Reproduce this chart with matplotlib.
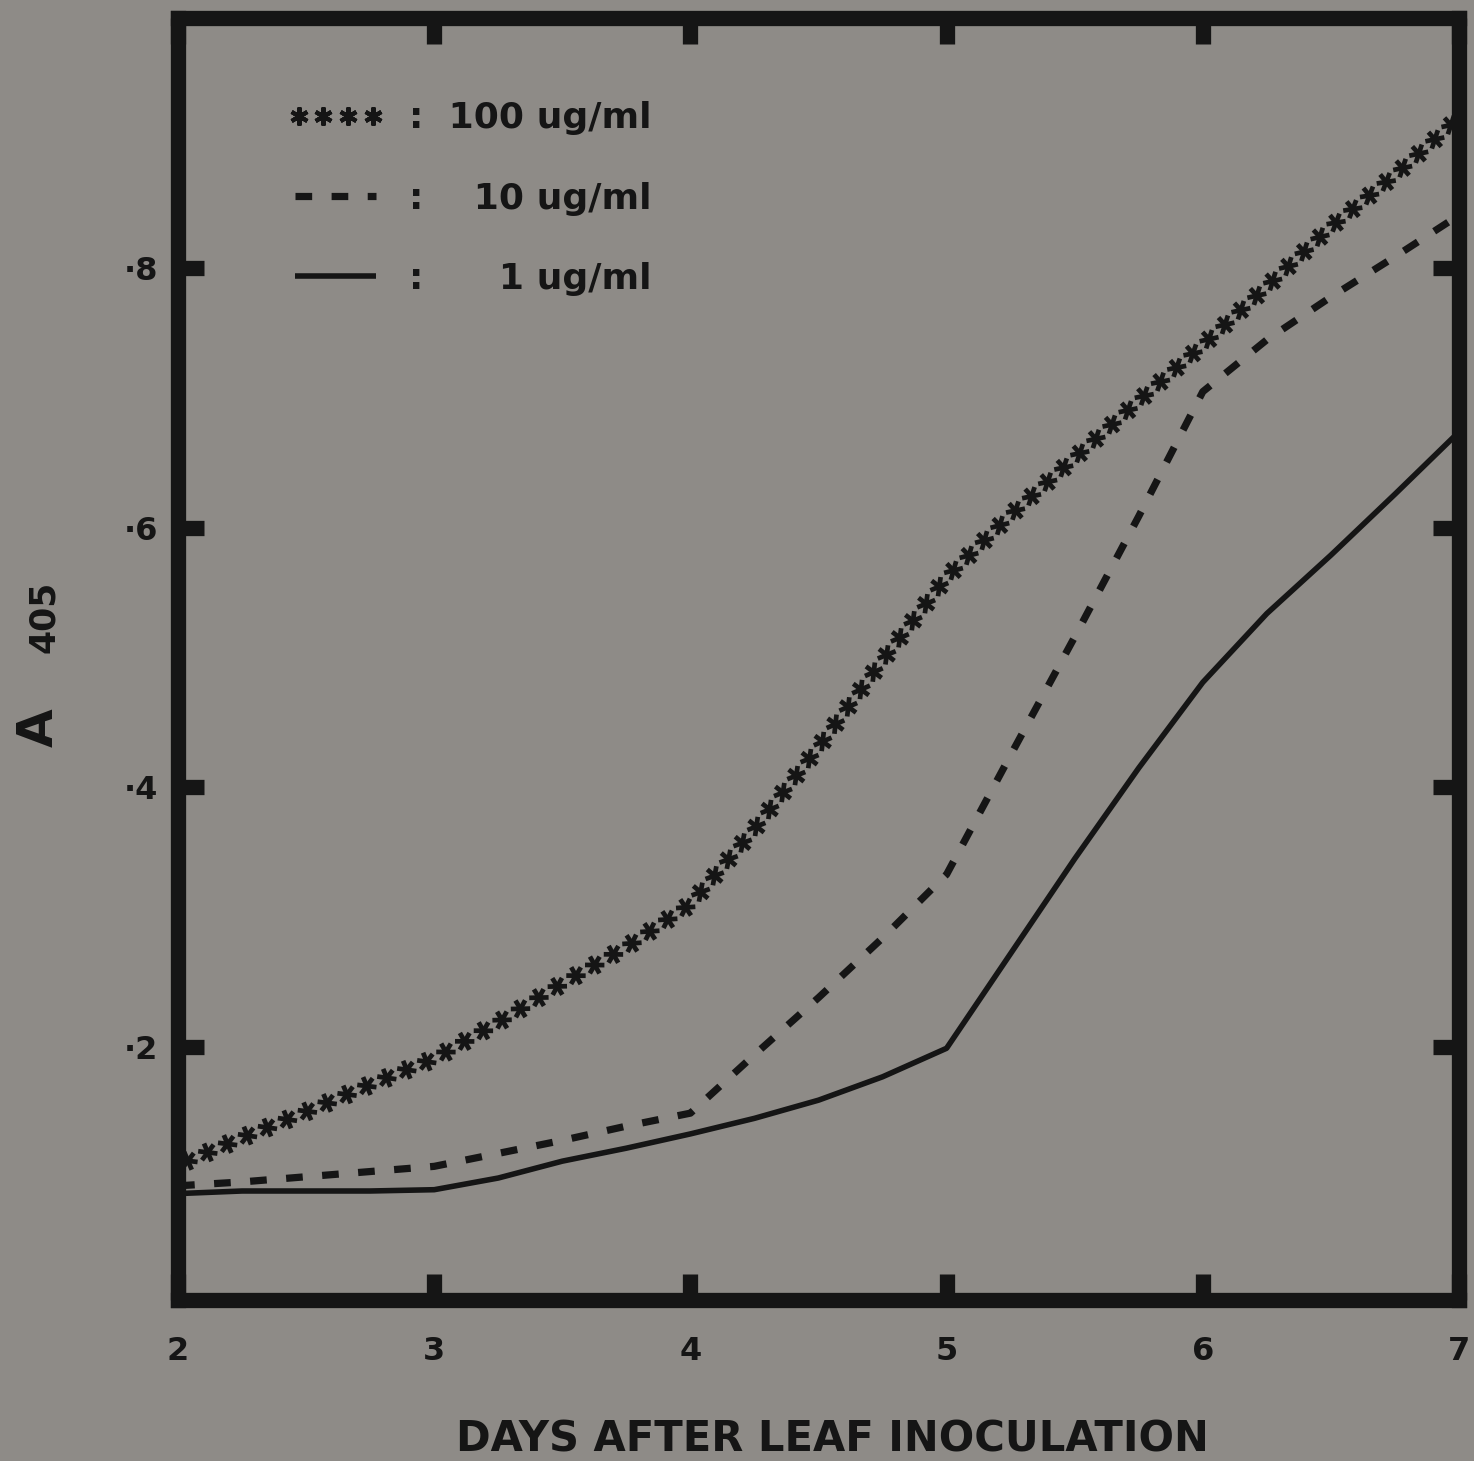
import matplotlib
matplotlib.use("Agg")
import matplotlib.pyplot as plt
import matplotlib.patheffects as pe
from matplotlib.lines import Line2D
from matplotlib.legend_handler import HandlerLine2D

# ---- data ----
days = [2.0, 2.25, 2.5, 2.75, 3.0, 3.25, 3.5, 3.75, 4.0, 4.25, 4.5,
        4.75, 5.0, 5.25, 5.5, 5.75, 6.0, 6.25, 6.5, 6.75, 7.0]
a405_100 = [0.109, 0.130, 0.150, 0.171, 0.191, 0.219, 0.249, 0.277, 0.310,
            0.368, 0.431, 0.498, 0.562, 0.610, 0.654, 0.698, 0.741, 0.786,
            0.832, 0.872, 0.916]
a405_10 = [0.093, 0.096, 0.100, 0.104, 0.108, 0.118, 0.128, 0.139, 0.149,
           0.194, 0.238, 0.284, 0.333, 0.425, 0.516, 0.609, 0.705, 0.745,
           0.778, 0.809, 0.841]
a405_1 = [0.087, 0.089, 0.089, 0.089, 0.090, 0.099, 0.112, 0.122, 0.133,
          0.145, 0.159, 0.177, 0.199, 0.272, 0.345, 0.415, 0.481, 0.534,
          0.579, 0.626, 0.674]

x_ticks = [2, 3, 4, 5, 6, 7]
x_tick_labels = ["2", "3", "4", "5", "6", "7"]
y_ticks = [0.2, 0.4, 0.6, 0.8]
y_tick_labels = ["\u00b72", "\u00b74", "\u00b76", "\u00b78"]
series_labels = [":  100 ug/ml", ":  \u200710 ug/ml", ":  \u2007\u20071 ug/ml"]
x_label = "DAYS AFTER LEAF INOCULATION"
y_label_main = "A"
y_label_sub = "405"

# ---- style ----
BG = "#8e8b87"
INK = "#151515"
plt.rcParams["lines.scale_dashes"] = False
plt.rcParams["font.family"] = ["DejaVu Sans"]
plt.rcParams["font.weight"] = "bold"

fig = plt.figure(figsize=(14.74, 14.61), dpi=100, facecolor=BG)
ax = fig.add_axes([0.1208, 0.1102, 0.869, 0.8775], facecolor=BG)

# star-line: six-armed stars spaced evenly along the curve
star_fx = [pe.TickedStroke(spacing=15.5, angle=a, length=0.45,
                           linewidth=3.4, foreground=INK, capstyle="butt")
           for a in (30, 90, 150, 210, 270, 330)]
ax.plot(days, a405_100, color=INK, lw=3.4, path_effects=star_fx)
ax.plot(days, a405_10, color=INK, lw=5.2, dashes=(12, 14), dash_capstyle="butt")
ax.plot(days, a405_1, color=INK, lw=4.0, solid_capstyle="butt")

ax.set_xlim(2, 7)
ax.set_ylim(0.005, 0.993)

ax.set_xticks(x_ticks)
ax.set_xticklabels(x_tick_labels)
ax.set_yticks(y_ticks)
ax.set_yticklabels(y_tick_labels)
ax.tick_params(direction="in", length=19, width=11, color=INK,
               top=True, right=True, labelsize=23, labelcolor=INK)
ax.tick_params(axis="x", pad=26)
ax.tick_params(axis="y", pad=14)

for sp in ax.spines.values():
    sp.set_linewidth(11)
    sp.set_color(INK)
    sp.set_capstyle("projecting")

fig.text(0.5645, 0.0145, x_label, ha="center", va="center",
         fontsize=30, color=INK, fontweight="bold")
fig.text(0.026, 0.502, y_label_main, rotation=90, ha="center", va="center",
         fontsize=36, color=INK, fontweight="bold")
fig.text(0.030, 0.578, y_label_sub, rotation=90, ha="center", va="center",
         fontsize=25, color=INK, fontweight="bold")

# legend
h_star = Line2D([], [], ls="none", marker=(6, 2, 0), ms=13, mew=3,
                color=INK)
h_dash = Line2D([], [], color=INK, lw=5.2, dashes=(12, 14),
                dash_capstyle="butt")
h_solid = Line2D([], [], color=INK, lw=4.0, solid_capstyle="butt")
leg = ax.legend([h_star, h_dash, h_solid], series_labels,
                loc="upper left", bbox_to_anchor=(0.083, 0.935),
                frameon=False, fontsize=26, numpoints=4,
                handlelength=2.85, handletextpad=0.6, labelspacing=1.28,
                borderpad=0, borderaxespad=0,
                handler_map={h_star: HandlerLine2D(marker_pad=0.4)})
for t in leg.get_texts():
    t.set_color(INK)
    t.set_fontweight("bold")

fig.savefig("out.png", dpi=100, facecolor=BG)
